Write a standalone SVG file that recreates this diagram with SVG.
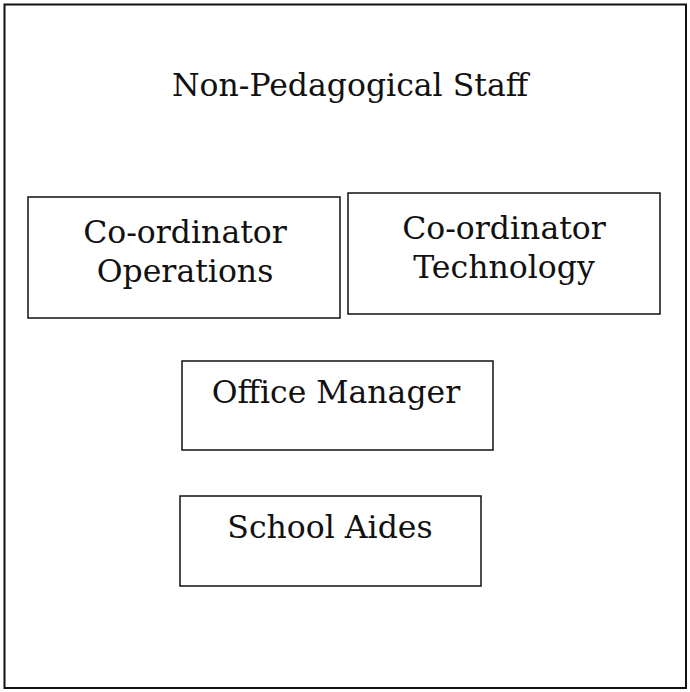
<svg xmlns="http://www.w3.org/2000/svg" width="690" height="692" viewBox="0 0 690 692">
<style>
.box{fill:#fff;stroke:#111;stroke-width:1.5}
.t{font-family:"DejaVu Serif","Liberation Serif",serif;font-size:31.5px;fill:#111;text-anchor:middle}
</style>
<rect width="690" height="692" fill="#fff"/>
<g id="frame">
<rect x="4.5" y="4.5" width="681.5" height="683.5" fill="none" stroke="#111" stroke-width="2"/>
<text class="t" x="350" y="96">Non-Pedagogical Staff</text>
</g>
<g id="connectors"></g>
<g id="coord-operations">
<rect class="box" x="28" y="197" width="312" height="121"/>
<text class="t" x="185" y="243">Co-ordinator</text>
<text class="t" x="185" y="282">Operations</text>
</g>
<g id="coord-technology">
<rect class="box" x="348" y="193" width="312" height="121"/>
<text class="t" x="504" y="239">Co-ordinator</text>
<text class="t" x="504" y="278">Technology</text>
</g>
<g id="office-manager">
<rect class="box" x="182" y="361" width="311" height="89"/>
<text class="t" x="336" y="403">Office Manager</text>
</g>
<g id="school-aides">
<rect class="box" x="180" y="496" width="301" height="90"/>
<text class="t" x="330" y="538">School Aides</text>
</g>
</svg>
